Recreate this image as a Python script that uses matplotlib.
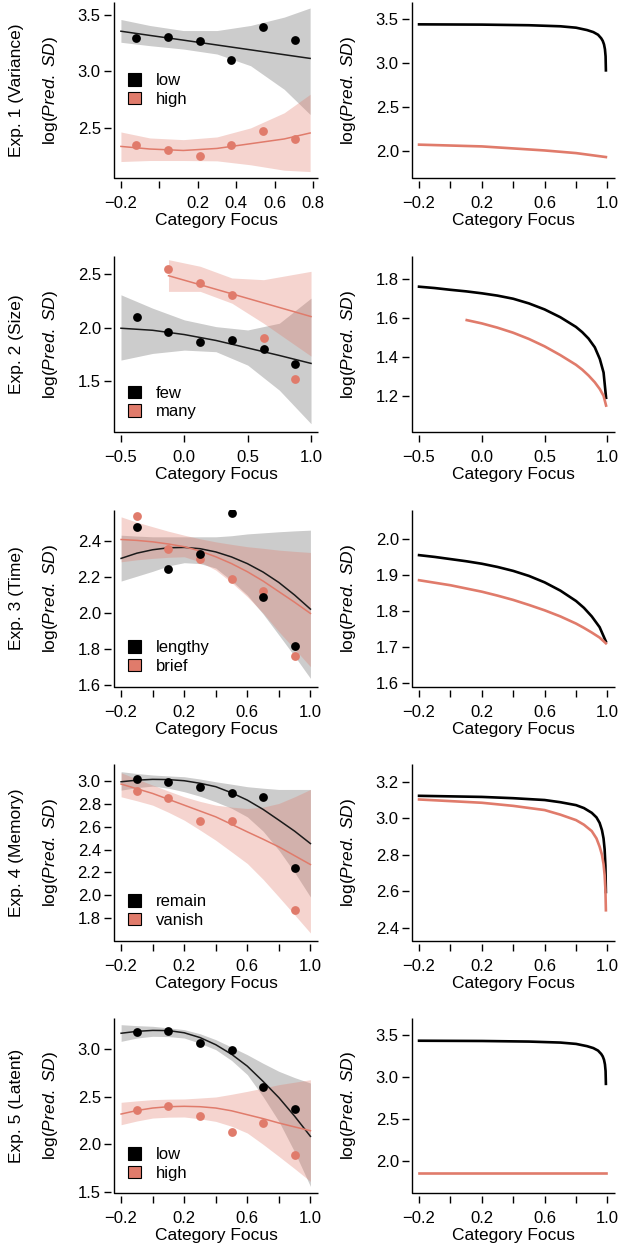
import numpy as np
import matplotlib
matplotlib.use('Agg')
import matplotlib.pyplot as plt
from matplotlib.patches import Patch

plt.rcParams['font.family'] = ['Liberation Sans', 'DejaVu Sans']
plt.rcParams['mathtext.fontset'] = 'custom'
plt.rcParams['mathtext.rm'] = 'Liberation Sans'
plt.rcParams['mathtext.it'] = 'Liberation Sans:italic'

SALMON = '#E07B6B'

# ---------------- data ----------------
row_names = ['Exp. 1 (Variance)', 'Exp. 2 (Size)', 'Exp. 3 (Time)',
             'Exp. 4 (Memory)', 'Exp. 5 (Latent)']
group_names = [('low', 'high'), ('few', 'many'), ('lengthy', 'brief'),
               ('remain', 'vanish'), ('low', 'high')]

# Exp 1
e1_x = [-0.12, 0.045, 0.21, 0.375, 0.54, 0.705]
e1_low = [3.30, 3.31, 3.27, 3.10, 3.39, 3.28]
e1_high = [2.35, 2.30, 2.25, 2.35, 2.47, 2.40]
e1_fx = [-0.2, -0.05, 0.125, 0.3, 0.475, 0.65, 0.785]
e1_low_fit = [3.357, 3.320, 3.278, 3.235, 3.192, 3.149, 3.116]
e1_low_hi = [3.461, 3.408, 3.363, 3.363, 3.408, 3.482, 3.563]
e1_low_lo = [3.259, 3.229, 3.199, 3.155, 3.051, 2.842, 2.619]
e1_high_fit = [2.336, 2.313, 2.300, 2.318, 2.360, 2.402, 2.455]
e1_high_hi = [2.464, 2.411, 2.396, 2.420, 2.500, 2.634, 2.798]
e1_high_lo = [2.202, 2.211, 2.211, 2.208, 2.173, 2.125, 2.113]

# Exp 2
e2_x_few = [-0.375, -0.125, 0.125, 0.375, 0.625, 0.875]
e2_few = [2.10, 1.955, 1.865, 1.88, 1.80, 1.665]
e2_x_many = [-0.125, 0.125, 0.375, 0.625, 0.875]
e2_many = [2.55, 2.415, 2.305, 1.90, 1.525]
e2_fx_few = [-0.5, -0.25, 0.0, 0.25, 0.5, 0.75, 1.0]
e2_few_fit = [1.994, 1.975, 1.935, 1.880, 1.810, 1.740, 1.666]
e2_few_hi = [2.306, 2.181, 2.072, 2.009, 1.978, 2.041, 2.275]
e2_few_lo = [1.697, 1.759, 1.790, 1.775, 1.650, 1.416, 1.103]
e2_fx_many = [-0.125, 0.125, 0.375, 0.625, 1.0]
e2_many_fit = [2.484, 2.400, 2.315, 2.230, 2.103]
e2_many_hi = [2.634, 2.572, 2.463, 2.447, 2.525]
e2_many_lo = [2.338, 2.338, 2.228, 2.041, 1.734]

# Exp 3-5 share the category focus values
cf_x = [-0.1, 0.1, 0.3, 0.5, 0.7, 0.9]
cf_fx = [-0.2, -0.1, 0.0, 0.1, 0.2, 0.3, 0.4, 0.5, 0.6, 0.7, 0.8, 0.9, 1.0]

e3_lengthy = [2.48, 2.243, 2.331, 2.554, 2.091, 1.819]
e3_brief = [2.541, 2.354, 2.298, 2.189, 2.122, 1.763]
e3_lengthy_fit = [2.304, 2.333, 2.352, 2.363, 2.365, 2.358, 2.340, 2.312, 2.275, 2.228, 2.170, 2.100, 2.022]
e3_lengthy_hi = [2.433, 2.428, 2.424, 2.424, 2.424, 2.424, 2.424, 2.430, 2.440, 2.446, 2.452, 2.457, 2.461]
e3_lengthy_lo = [2.178, 2.205, 2.232, 2.262, 2.280, 2.275, 2.250, 2.180, 2.100, 1.995, 1.878, 1.760, 1.637]
e3_brief_fit = [2.409, 2.404, 2.396, 2.384, 2.369, 2.345, 2.313, 2.275, 2.230, 2.178, 2.119, 2.060, 1.998]
e3_brief_hi = [2.535, 2.505, 2.480, 2.455, 2.433, 2.413, 2.396, 2.382, 2.369, 2.360, 2.350, 2.343, 2.337]
e3_brief_lo = [2.285, 2.296, 2.304, 2.310, 2.313, 2.285, 2.239, 2.170, 2.091, 2.000, 1.896, 1.800, 1.702]

e4_remain = [3.012, 2.991, 2.942, 2.895, 2.854, 2.237]
e4_x_vanish = [-0.1, 0.1, 0.3, 0.5, 0.9]
e4_vanish = [2.913, 2.851, 2.648, 2.650, 1.873]
e4_remain_fit = [2.991, 3.005, 3.012, 3.010, 3.000, 2.978, 2.948, 2.895, 2.831, 2.750, 2.656, 2.560, 2.452]
e4_remain_hi = [3.079, 3.063, 3.050, 3.042, 3.035, 3.015, 2.991, 2.970, 2.948, 2.935, 2.924, 2.924, 2.924]
e4_remain_lo = [2.918, 2.940, 2.953, 2.935, 2.904, 2.865, 2.816, 2.760, 2.685, 2.560, 2.394, 2.200, 1.986]
e4_vanish_fit = [2.971, 2.930, 2.889, 2.838, 2.787, 2.736, 2.685, 2.620, 2.554, 2.490, 2.423, 2.346, 2.269]
e4_vanish_hi = [3.070, 3.015, 2.962, 2.910, 2.860, 2.820, 2.787, 2.770, 2.758, 2.770, 2.802, 2.860, 2.924]
e4_vanish_lo = [2.860, 2.825, 2.787, 2.725, 2.656, 2.570, 2.481, 2.380, 2.278, 2.140, 1.986, 1.830, 1.672]

e5_low = [3.175, 3.185, 3.063, 2.993, 2.601, 2.371]
e5_high = [2.357, 2.406, 2.301, 2.126, 2.227, 1.885]
e5_low_fit = [3.165, 3.185, 3.195, 3.193, 3.170, 3.120, 3.045, 2.945, 2.820, 2.660, 2.490, 2.295, 2.084]
e5_low_hi = [3.255, 3.245, 3.238, 3.222, 3.203, 3.160, 3.098, 3.020, 2.940, 2.850, 2.766, 2.700, 2.643]
e5_low_lo = [3.080, 3.115, 3.133, 3.130, 3.115, 3.060, 2.993, 2.880, 2.731, 2.500, 2.241, 1.920, 1.559]
e5_high_fit = [2.318, 2.355, 2.381, 2.395, 2.399, 2.395, 2.381, 2.352, 2.311, 2.270, 2.224, 2.183, 2.143]
e5_high_hi = [2.441, 2.456, 2.469, 2.474, 2.476, 2.486, 2.497, 2.525, 2.556, 2.590, 2.626, 2.652, 2.678]
e5_high_lo = [2.206, 2.245, 2.276, 2.285, 2.287, 2.268, 2.241, 2.190, 2.119, 2.000, 1.874, 1.745, 1.612]

# model predictions (right column)
m1_x = [-0.2, 0.2, 0.5, 0.7, 0.8, 0.87, 0.91, 0.94, 0.96, 0.97, 0.978, 0.984, 0.988, 0.99]
m1_low = [3.443, 3.440, 3.433, 3.421, 3.405, 3.378, 3.355, 3.325, 3.285, 3.255, 3.215, 3.160, 3.080, 2.920]
m1_hx = [-0.2, 0.2, 0.6, 0.8, 0.99]
m1_high = [2.076, 2.056, 2.010, 1.980, 1.935]

m2_x_few = [-0.5, -0.375, -0.25, -0.125, 0.0, 0.125, 0.25, 0.375, 0.5, 0.625, 0.75,
            0.8, 0.85, 0.9, 0.94, 0.97, 0.99]
m2_few = [1.762, 1.755, 1.746, 1.738, 1.728, 1.716, 1.700, 1.676, 1.645, 1.605, 1.555,
          1.528, 1.495, 1.450, 1.390, 1.320, 1.190]
m2_x_many = [-0.12, 0.0, 0.125, 0.25, 0.375, 0.5, 0.625, 0.75, 0.8, 0.85, 0.9, 0.94, 0.97, 0.99]
m2_many = [1.590, 1.573, 1.551, 1.525, 1.493, 1.455, 1.410, 1.360, 1.335, 1.305, 1.270,
           1.235, 1.200, 1.150]

m3_x = [-0.2, -0.1, 0.0, 0.1, 0.2, 0.3, 0.4, 0.5, 0.6, 0.7, 0.8, 0.85, 0.9, 0.95, 0.99]
m3_lengthy = [1.956, 1.951, 1.945, 1.939, 1.932, 1.923, 1.912, 1.898, 1.880, 1.857,
              1.828, 1.809, 1.785, 1.755, 1.715]
m3_brief = [1.886, 1.879, 1.872, 1.863, 1.854, 1.843, 1.831, 1.817, 1.802, 1.785,
            1.765, 1.753, 1.740, 1.726, 1.710]

m4_x = [-0.2, 0.2, 0.4, 0.6, 0.7, 0.8, 0.85, 0.9, 0.93, 0.95, 0.965, 0.975, 0.982, 0.987, 0.99]
m4_remain = [3.123, 3.117, 3.110, 3.100, 3.088, 3.072, 3.056, 3.030, 3.005, 2.975,
             2.935, 2.890, 2.830, 2.740, 2.597]
m4_vanish = [3.103, 3.085, 3.068, 3.045, 3.020, 2.990, 2.965, 2.930, 2.890, 2.845,
             2.800, 2.750, 2.690, 2.610, 2.497]

m5_x = m1_x
m5_low = [3.436, 3.433, 3.426, 3.414, 3.398, 3.371, 3.348, 3.318, 3.278, 3.248, 3.208,
          3.153, 3.073, 2.920]
m5_hx = [-0.2, 0.99]
m5_high = [1.852, 1.852]

# ---------------- layout (pixels of a 620x1246 canvas) ----------------
W, H = 620, 1246
row_px = [(2, 178), (256, 432), (510, 687), (764, 941), (1018, 1193)]
left_px = (114, 318)
right_px = (412, 615)

fig = plt.figure(figsize=(W / 100, H / 100), dpi=100)


def make_axes(xpx, ypx):
    return fig.add_axes([xpx[0] / W, 1 - ypx[1] / H,
                         (xpx[1] - xpx[0]) / W, (ypx[1] - ypx[0]) / H])


def style(ax, xlim, ylim, xticks, xlabels, yticks):
    ax.set_xlim(xlim)
    ax.set_ylim(ylim)
    ax.set_xticks(xticks)
    ax.set_xticklabels(xlabels)
    ax.set_yticks(yticks)
    ax.set_yticklabels([f'{t:.1f}' for t in yticks])
    for s in ['top', 'right']:
        ax.spines[s].set_visible(False)
    for s in ['left', 'bottom']:
        ax.spines[s].set_position(('outward', 2.2))
        ax.spines[s].set_visible(False)
    ax.plot([0, 0, 1], [1, 0, 0], transform=ax.transAxes, color='black',
            lw=1.0, clip_on=False, solid_capstyle='butt')
    ax.tick_params(length=4.9, width=1.0, labelsize=12, direction='out')
    ax.tick_params(axis='x', pad=6.0)
    ax.tick_params(axis='y', pad=2.4)
    ax.set_xlabel('Category Focus', fontsize=12.5, labelpad=1.5)


def neg(v):
    return f'{v:.1f}'.replace('-', '\u2212')


ticks_a = [-0.2, 0.0, 0.2, 0.4, 0.6, 0.8, 1.0]
labels_a = [neg(-0.2), '', '0.2', '', '0.6', '', '1.0']
ticks_b = [-0.5, 0.0, 0.5, 1.0]
labels_b = [neg(-0.5), '0.0', '0.5', '1.0']
ticks_c = [-0.2, 0.0, 0.2, 0.4, 0.6, 0.8]
labels_c = [neg(-0.2), '', '0.2', '0.4', '0.6', '0.8']

left_cfg = [
    dict(xlim=(-0.236, 0.826), ylim=(2.056, 3.616), xt=ticks_c, xl=labels_c, yt=[2.5, 3.0, 3.5], leg=0.50),
    dict(xlim=(-0.555, 1.055), ylim=(1.026, 2.668), xt=ticks_b, xl=labels_b, yt=[1.5, 2.0, 2.5], leg=0.167),
    dict(xlim=(-0.245, 1.048), ylim=(1.589, 2.573), xt=ticks_a, xl=labels_a, yt=[1.6, 1.8, 2.0, 2.2, 2.4], leg=0.17),
    dict(xlim=(-0.245, 1.048), ylim=(1.602, 3.146), xt=ticks_a, xl=labels_a, yt=[1.8, 2.0, 2.2, 2.4, 2.6, 2.8, 3.0], leg=0.17),
    dict(xlim=(-0.245, 1.048), ylim=(1.490, 3.325), xt=ticks_a, xl=labels_a, yt=[1.5, 2.0, 2.5, 3.0], leg=0.166),
]
right_cfg = [
    dict(xlim=(-0.245, 1.048), ylim=(1.697, 3.697), xt=ticks_a, xl=labels_a, yt=[2.0, 2.5, 3.0, 3.5]),
    dict(xlim=(-0.556, 1.061), ylim=(1.014, 1.920), xt=ticks_b, xl=labels_b, yt=[1.2, 1.4, 1.6, 1.8]),
    dict(xlim=(-0.245, 1.048), ylim=(1.588, 2.082), xt=ticks_a, xl=labels_a, yt=[1.6, 1.7, 1.8, 1.9, 2.0]),
    dict(xlim=(-0.245, 1.048), ylim=(2.329, 3.297), xt=ticks_a, xl=labels_a, yt=[2.4, 2.6, 2.8, 3.0, 3.2]),
    dict(xlim=(-0.245, 1.048), ylim=(1.614, 3.708), xt=ticks_a, xl=labels_a, yt=[2.0, 2.5, 3.0, 3.5]),
]

# (points x, points y, fit x, fit, lo, hi) for the two groups of every experiment
left_data = [
    ((e1_x, e1_low, e1_fx, e1_low_fit, e1_low_lo, e1_low_hi),
     (e1_x, e1_high, e1_fx, e1_high_fit, e1_high_lo, e1_high_hi)),
    ((e2_x_few, e2_few, e2_fx_few, e2_few_fit, e2_few_lo, e2_few_hi),
     (e2_x_many, e2_many, e2_fx_many, e2_many_fit, e2_many_lo, e2_many_hi)),
    ((cf_x, e3_lengthy, cf_fx, e3_lengthy_fit, e3_lengthy_lo, e3_lengthy_hi),
     (cf_x, e3_brief, cf_fx, e3_brief_fit, e3_brief_lo, e3_brief_hi)),
    ((cf_x, e4_remain, cf_fx, e4_remain_fit, e4_remain_lo, e4_remain_hi),
     (e4_x_vanish, e4_vanish, cf_fx, e4_vanish_fit, e4_vanish_lo, e4_vanish_hi)),
    ((cf_x, e5_low, cf_fx, e5_low_fit, e5_low_lo, e5_low_hi),
     (cf_x, e5_high, cf_fx, e5_high_fit, e5_high_lo, e5_high_hi)),
]
right_data = [
    ((m1_x, m1_low), (m1_hx, m1_high)),
    ((m2_x_few, m2_few), (m2_x_many, m2_many)),
    ((m3_x, m3_lengthy), (m3_x, m3_brief)),
    ((m4_x, m4_remain), (m4_x, m4_vanish)),
    ((m5_x, m5_low), (m5_hx, m5_high)),
]

ylab = r'log($\mathit{Pred.\ SD}$)'

for i in range(5):
    ypx = row_px[i]
    ymid = 1 - (ypx[0] + ypx[1]) / 2 / H

    # ----- left: data with fits -----
    ax = make_axes(left_px, ypx)
    g0, g1 = left_data[i]
    ax.fill_between(g0[2], g0[4], g0[5], color='black', alpha=0.2, lw=0)
    ax.plot(g0[2], g0[3], color='#1a1a1a', lw=1.1)
    ax.fill_between(g1[2], g1[4], g1[5], color=SALMON, alpha=0.32, lw=0)
    ax.plot(g1[2], g1[3], color=SALMON, lw=1.1)
    ax.scatter(g1[0], g1[1], s=40, color=SALMON, lw=0, zorder=3)
    ax.scatter(g0[0], g0[1], s=40, color='black', lw=0, zorder=3)
    c = left_cfg[i]
    style(ax, c['xlim'], c['ylim'], c['xt'], c['xl'], c['yt'])
    handles = [Patch(facecolor='black', edgecolor='black', lw=0.8, label=group_names[i][0]),
               Patch(facecolor=SALMON, edgecolor='black', lw=0.8, label=group_names[i][1])]
    ax.legend(handles=handles, loc='center left', bbox_to_anchor=(0.071, c['leg']),
              frameon=False, fontsize=12, handlelength=0.75, handleheight=0.75,
              handletextpad=0.9, labelspacing=0.2, borderpad=0, borderaxespad=0)
    fig.text(17 / W, ymid, row_names[i], rotation=90, ha='center', va='center', fontsize=12.5)
    fig.text(50 / W, ymid, ylab, rotation=90, ha='center', va='center', fontsize=12.5)

    # ----- right: model predictions -----
    ax = make_axes(right_px, ypx)
    m0, m1 = right_data[i]
    ax.plot(m0[0], m0[1], color='black', lw=1.9)
    ax.plot(m1[0], m1[1], color=SALMON, lw=1.9)
    c = right_cfg[i]
    style(ax, c['xlim'], c['ylim'], c['xt'], c['xl'], c['yt'])
    fig.text(349 / W, ymid, ylab, rotation=90, ha='center', va='center', fontsize=12.5)

fig.savefig('out.png', dpi=100)
